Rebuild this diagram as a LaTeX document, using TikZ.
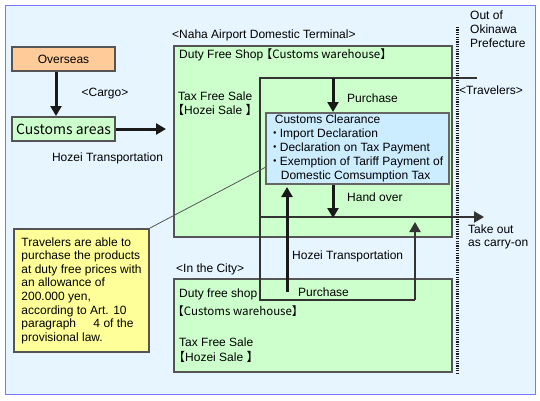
\documentclass[tikz,border=0pt]{standalone}
\usepackage{fontspec}
\setmainfont{Liberation Sans}
\newfontfamily\cjk[RawFeature=+halt]{Noto Sans CJK JP}
\usetikzlibrary{arrows.meta}
\definecolor{bgblue}{RGB}{230,245,255}
\definecolor{frameblue}{RGB}{120,120,255}
\definecolor{boxgreen}{RGB}{204,255,204}
\definecolor{boxorange}{RGB}{255,204,153}
\definecolor{boxblue}{RGB}{204,236,255}
\definecolor{boxyellow}{RGB}{255,255,153}
\definecolor{edgegray}{RGB}{85,85,85}
\newcommand{\kakkoL}{{\cjk 【}}
\newcommand{\kakkoR}{{\cjk 】}}
\newcommand{\nakaguro}{{\cjk ・}}
\begin{document}
\begin{tikzpicture}[x=1pt,y=-1pt,inner sep=0pt,
  txt/.style={font=\fontsize{12}{14}\selectfont,align=left},
  box/.style={draw=edgegray,line width=2pt},
  route/.style={draw=black!80,line width=2pt},
  tip/.style={-{Triangle[width=11pt,length=10pt]}},
  flow/.style={draw=black!90,line width=3pt,tip}]
\useasboundingbox (0,0) rectangle (540,400);
\draw [frameblue,fill=bgblue,line width=1pt] (5,5) rectangle (535,394);

\node [box,fill=boxorange,minimum width=103pt,minimum height=24pt,txt] (overseas) at (63.5,59) {Overseas};
\node [box,fill=boxgreen,minimum width=103pt,minimum height=24pt,font=\cjk\fontsize{14}{16}\selectfont] (customs) at (63.5,129) {Customs areas};
\node [txt] (cargo) at (105,94) {<Cargo>};
\node [txt] (hozeiA) at (107.5,158) {Hozei Transportation};
\coordinate (airin) at (166,129);
\draw [flow] ([xshift=-7.5pt]overseas.south) -- ([xshift=-7.5pt]customs.north);
\draw [flow] (customs.east) -- (airin);

\node [txt,anchor=west] (naha) at (172,35) {<Naha Airport Domestic Terminal>};
\node [box,fill=boxgreen,minimum width=278pt,minimum height=191pt,anchor=north west] (airport) at (173,45) {};
\node [txt,anchor=west] (shopA) at (179,55) {Duty Free Shop {\cjk\fontsize{11.5}{12}\selectfont 【Customs warehouse】}};
\node [txt,anchor=north west] (taxA) at (178,92) {Tax Free Sale\\\kakkoL Hozei Sale \kakkoR};

\node [txt,anchor=west] (cityl) at (176,269) {<In the City>};
\node [box,fill=boxgreen,minimum width=278pt,minimum height=93pt,anchor=north west] (city) at (173,278) {};
\node [txt,anchor=west] (shopB) at (179,294) {Duty free shop};
\node [anchor=west,font=\cjk\fontsize{11.5}{12}\selectfont] (whB) at (178,311) {【Customs warehouse】};
\node [font=\fontsize{12}{15}\selectfont,align=left,anchor=north west] (taxB) at (179,338) {Tax Free Sale\\\kakkoL Hozei Sale \kakkoR};

\node [draw=black!60,line width=2pt,fill=boxblue,minimum width=183pt,minimum height=71pt,anchor=north west,txt] (clear) at (265,112)
  {\hspace*{3pt}Customs Clearance\\\nakaguro\,Import Declaration\\\nakaguro\,Declaration on Tax Payment\\\nakaguro\,Exemption of Tariff Payment of\\\hspace*{9pt}Domestic Comsumption Tax};

\coordinate (rtop) at (260,78);
\coordinate (rend) at (477,78);
\coordinate (rbotl) at (260,300);
\coordinate (rbotr) at (415,300);
\coordinate (rup) at (415,222);
\coordinate (exitl) at (260,217);
\coordinate (exitr) at (484,217);
\coordinate (buy) at (333,78);
\coordinate (cityup) at (287,292);
\draw [route] (rend) -- (rtop) -- (rbotl) -- (rbotr);
\draw [route,tip] (rbotr) -- (rup);
\draw [route,tip] (exitl) -- (exitr);
\draw [flow] (buy) -- (buy |- clear.north);
\draw [flow] (clear.south -| buy) -- ([yshift=-1pt]buy |- exitl);
\draw [flow] (cityup) -- ([yshift=-2pt]cityup |- clear.south);
\node [txt,anchor=west] (buyA) at (347,98) {Purchase};
\node [txt,anchor=west] (hand) at (347,197) {Hand over};
\node [txt,anchor=west] (hozeiB) at (292,256) {Hozei Transportation};
\node [txt,anchor=west] (buyB) at (298,292) {Purchase};

\draw [black!90,line width=3pt,dash pattern=on 1.2pt off 1.2pt] (457,27) -- (457,373);
\node [txt,anchor=north west] (okinawa) at (470,10.5) {Out of\\Okinawa\\Prefecture};
\node [txt,anchor=west] (travel) at (459,90) {<Travelers>};
\node [font=\fontsize{12}{13}\selectfont,align=left,anchor=north west] (carry) at (468,225) {Take out\\as carry-on};

\node [box,fill=boxyellow,minimum width=135pt,minimum height=123pt,anchor=north west,font=\fontsize{12}{13.6}\selectfont,align=left] (note) at (13,228)
  {Travelers are able to\\purchase the products\\at duty free prices with\\an allowance of\\200.000 yen,\\according to Art. 10\\paragraph\hspace{14pt} 4 of the\\provisional law.};
\draw [edgegray,line width=0.8pt] (note.north east) -- ([yshift=-19pt]clear.west);
\end{tikzpicture}
\end{document}
